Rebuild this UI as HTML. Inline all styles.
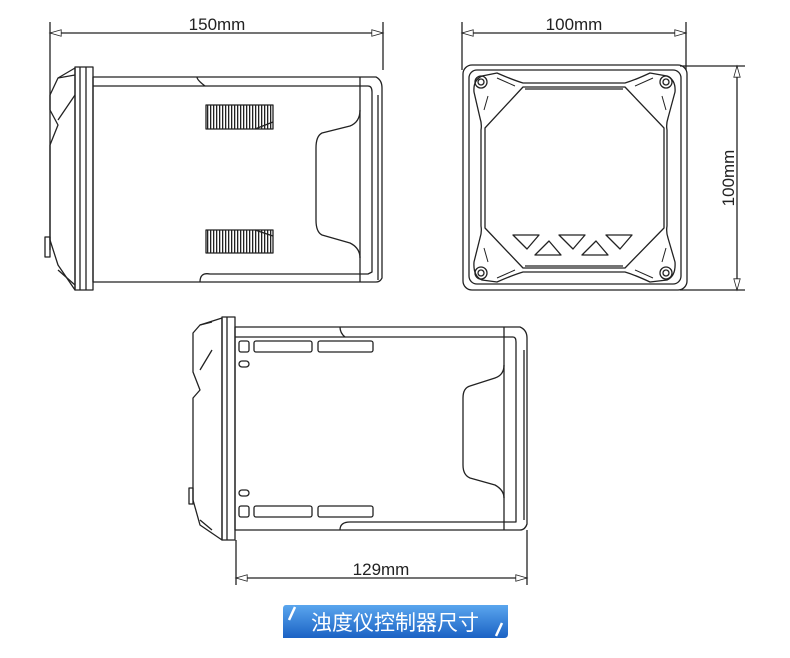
<!DOCTYPE html>
<html><head><meta charset="utf-8"><style>
html,body{margin:0;padding:0;background:#fff;width:790px;height:658px;overflow:hidden}
svg{display:block}
</style></head><body>
<svg width="790" height="658" viewBox="0 0 790 658" xmlns="http://www.w3.org/2000/svg">
<defs>
<marker id="a" viewBox="0 0 14 10" refX="14" refY="5" markerWidth="14" markerHeight="8" orient="auto-start-reverse" markerUnits="userSpaceOnUse"><path d="M0,1 L14,5 L0,9 Z" fill="#fff" stroke="#222" stroke-width="1"/></marker>
<pattern id="g" width="3" height="10" patternUnits="userSpaceOnUse"><rect width="3" height="10" fill="#fff"/><rect width="1.3" height="10" fill="#222"/></pattern>
<linearGradient id="bl" x1="0" y1="0" x2="0" y2="1"><stop offset="0" stop-color="#5aa6ee"/><stop offset="1" stop-color="#1b62c4"/></linearGradient>
</defs>
<g fill="none" stroke="#222" stroke-width="1.3" stroke-linejoin="round">
<!-- top-left view dims -->
<line x1="50" y1="22" x2="50" y2="250"/><line x1="383" y1="22" x2="383" y2="70"/>
<line x1="50" y1="33" x2="383" y2="33" marker-start="url(#a)" marker-end="url(#a)"/>
<!-- left face -->
<path d="M75,68 L58,78 L50,95 L50,110 L58,125 L50,145 L50,240 L58,265 L75,290 Z"/>
<path d="M58,78 L75,75 M58,120 L75,95 M58,270 L75,285"/>
<rect x="45" y="237" width="5" height="20"/>
<!-- bezel -->
<rect x="75" y="67" width="18" height="223"/>
<line x1="80" y1="67" x2="80" y2="290"/><line x1="86" y1="67" x2="86" y2="290"/>
<!-- body -->
<path d="M93,77 L376,77 Q382,80 382,88 L382,278 Q380,282 376,282 L93,282 Z"/>
<path d="M93,86 L205,86 Q197,80 197,77"/>
<path d="M205,86 L368,86 Q372,86 372,92 L372,272 L368,274 L210,274 Q200,272 200,282"/>
<line x1="360" y1="77" x2="360" y2="282"/>
<line x1="378" y1="95" x2="378" y2="280"/>
<path d="M360,110 Q360,122 350,126 L322,133 Q316,136 316,148 L316,220 Q316,232 322,235 L350,243 Q360,248 360,258"/>
<rect x="206" y="105" width="67" height="24" fill="url(#g)"/>
<rect x="206" y="230" width="67" height="23" fill="url(#g)"/>
<path d="M255,129 L273,122 M255,230 L273,236"/>
<!-- right view -->
<line x1="462" y1="22" x2="462" y2="70"/><line x1="686" y1="22" x2="686" y2="70"/>
<line x1="462" y1="33" x2="686" y2="33" marker-start="url(#a)" marker-end="url(#a)"/>
<line x1="680" y1="66" x2="745" y2="66"/><line x1="680" y1="290" x2="745" y2="290"/>
<line x1="737" y1="66" x2="737" y2="290" marker-start="url(#a)" marker-end="url(#a)"/>
<rect x="463" y="65" width="224" height="225" rx="9"/>
<rect x="469" y="70" width="212" height="214" rx="8"/>
<!-- outer contour of frame -->
<path d="M523,83 L625,83 Q635,80 650,73 L667,76 Q676,80 675,92 L668,118 Q666,124 667,130 L667,226 Q666,232 668,238 L675,262 Q676,276 667,280 L650,282 Q635,275 625,272 L523,272 Q513,275 497,282 L482,280 Q473,276 474,262 L480,238 Q482,232 481,226 L481,130 Q482,124 480,118 L474,92 Q473,80 482,76 L497,73 Q513,80 523,83 Z"/>
<!-- inner contour -->
<path d="M523,87 L625,87 L664,128 L664,228 L625,268 L523,268 L485,228 L485,128 Z"/>
<path d="M525,89 L623,89 M525,266 L623,266"/>
<path d="M497,78 L515,86 M488,96 L484,110 M653,78 L635,86 M662,96 L666,110 M497,278 L515,270 M488,262 L484,248 M653,278 L635,270 M662,262 L666,248" stroke-width="1"/>
<circle cx="481" cy="82" r="6"/><circle cx="481" cy="82" r="3"/>
<circle cx="666" cy="82" r="6"/><circle cx="666" cy="82" r="3"/>
<circle cx="481" cy="273" r="6"/><circle cx="481" cy="273" r="3"/>
<circle cx="666" cy="273" r="6"/><circle cx="666" cy="273" r="3"/>
<path d="M513,235 L539,235 L527,249 Z M559,235 L585,235 L573,249 Z M606,235 L632,235 L620,249 Z M535,255 L561,255 L549,241 Z M582,255 L608,255 L596,241 Z" stroke-linejoin="round"/>
<!-- bottom view -->
<path d="M222,318 L200,325 L193,333 L193,372 L200,390 L193,398 L193,500 L200,525 L222,540 Z"/>
<path d="M200,325 L212,322 M200,370 L212,350 M200,520 L212,530"/>
<rect x="189" y="488" width="4" height="16"/>
<rect x="222" y="317" width="13" height="223"/>
<line x1="227" y1="317" x2="227" y2="540"/>
<path d="M235,327 L520,327 Q527,330 527,338 L527,524 Q525,530 520,530 L235,530 Z"/>
<path d="M235,337 L345,337 Q340,333 340,327"/>
<path d="M345,337 L513,337 Q516,337 516,342 L516,522 L510,522 L350,522 Q340,522 340,530"/>
<line x1="504" y1="327" x2="504" y2="530"/>
<line x1="524" y1="350" x2="524" y2="520"/>
<line x1="527" y1="530" x2="527" y2="585"/><line x1="236" y1="540" x2="236" y2="585"/>
<path d="M504,365 Q504,375 495,378 L470,386 Q463,388 463,398 L463,465 Q463,475 470,478 L495,485 Q504,490 504,498"/>
<rect x="239" y="341" width="10" height="11" rx="2"/>
<rect x="254" y="341" width="58" height="11" rx="2"/>
<rect x="318" y="341" width="55" height="11" rx="2"/>
<rect x="239" y="361" width="10" height="6" rx="3"/>
<rect x="239" y="490" width="10" height="6" rx="3"/>
<rect x="239" y="506" width="10" height="11" rx="2"/>
<rect x="254" y="506" width="58" height="11" rx="2"/>
<rect x="318" y="506" width="55" height="11" rx="2"/>
<line x1="236" y1="578" x2="527" y2="578" marker-start="url(#a)" marker-end="url(#a)"/>
</g>
<g font-family="'Liberation Sans Narrow','Liberation Sans', sans-serif" font-size="17" fill="#222" text-anchor="middle">
<text x="217" y="30">150mm</text>
<text x="574" y="30">100mm</text>
<text x="381" y="575">129mm</text>
<text transform="translate(734,178) rotate(-90)">100mm</text>
</g>
<path d="M286,605 L508,605 L508,634 Q508,638 504,638 L283,638 L283,609 Q283,605 286,605 Z" fill="url(#bl)"/>
<path d="M289,620 L295,607 M496,636 L502,623" stroke="#fff" stroke-width="2.5"/>
<text x="395" y="630" font-family="'Liberation Sans','Noto Sans CJK SC',sans-serif" font-size="21" fill="#fff" text-anchor="middle">浊度仪控制器尺寸</text>
</svg>
</body></html>
